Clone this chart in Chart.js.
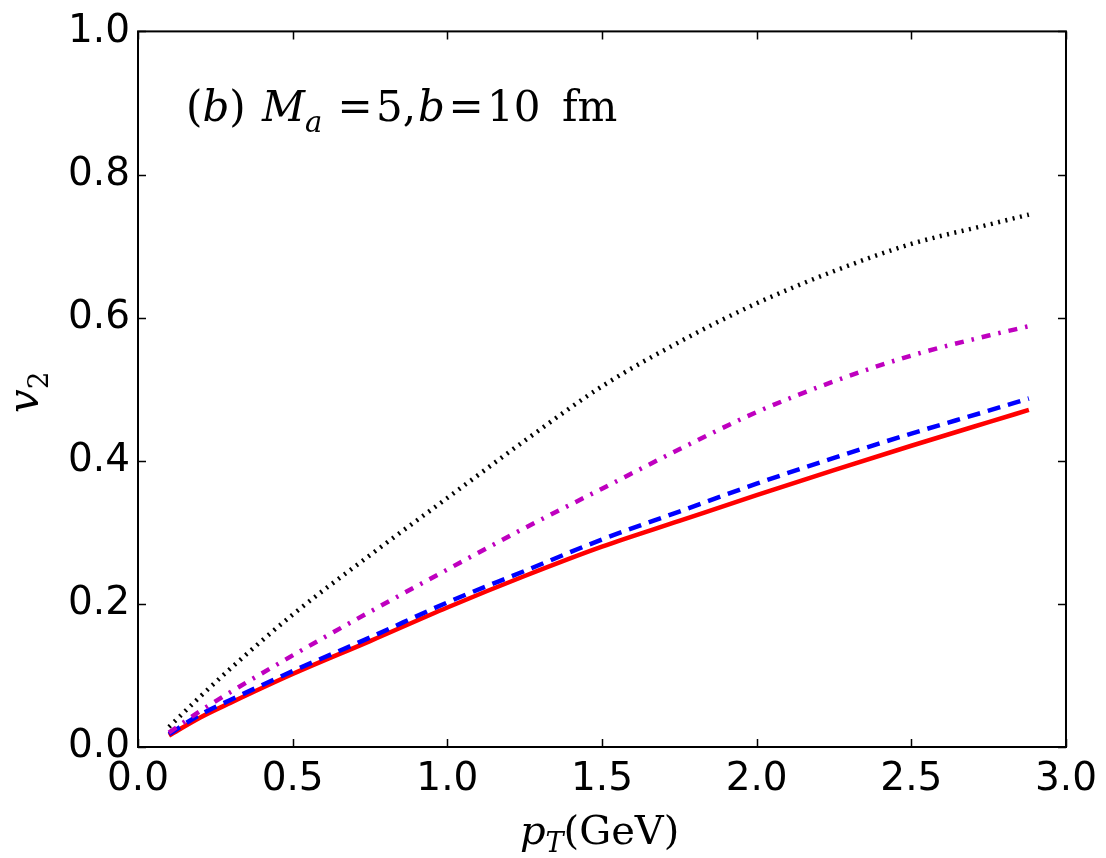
<!DOCTYPE html>
<html>
<head>
<meta charset="utf-8">
<script src="https://cdn.jsdelivr.net/npm/chart.js@4"></script>
<style>
  html, body { margin: 0; padding: 0; background: #fff; }
  #wrap { width: 1106px; height: 858px; }
</style>
</head>
<body>
<div id="wrap"><canvas id="v2Chart" width="1106" height="858"></canvas></div>
<script>
// pT values (GeV) and v2 for the four curves
const pT = [0.1, 0.2, 0.3, 0.5, 0.75, 1.0, 1.25, 1.5, 1.75, 2.0, 2.25, 2.5, 2.75, 2.88];
const v2Solid = [0.016, 0.041, 0.062, 0.102, 0.148, 0.195, 0.239, 0.280, 0.316, 0.352, 0.387, 0.421, 0.454, 0.471];
const v2Dashed = [0.018, 0.045, 0.066, 0.106, 0.153, 0.202, 0.246, 0.290, 0.329, 0.368, 0.404, 0.438, 0.470, 0.487];
const v2DashDot = [0.020, 0.050, 0.077, 0.128, 0.189, 0.248, 0.306, 0.361, 0.416, 0.468, 0.511, 0.547, 0.575, 0.588];
const v2Dotted = [0.028, 0.070, 0.110, 0.185, 0.268, 0.348, 0.428, 0.504, 0.566, 0.620, 0.665, 0.703, 0.730, 0.744];

const xTicks = [0, 0.5, 1.0, 1.5, 2.0, 2.5, 3.0];
const yTicks = [0, 0.2, 0.4, 0.6, 0.8, 1.0];

const tickFont = '"DejaVu Sans", sans-serif';
const mathFont = '"DejaVu Serif", "Liberation Serif", serif';

function toPoints(ys) {
  return pT.map((x, i) => ({ x: x, y: ys[i] }));
}

// draw a run of text pieces: [text, font, dy]
function drawRun(ctx, x, y, pieces) {
  pieces.forEach((p) => {
    ctx.font = p[1];
    ctx.fillText(p[0], x, y + (p[2] || 0));
    x += ctx.measureText(p[0]).width;
  });
  return x;
}

function drawCentered(ctx, text, cx, y, font) {
  ctx.save();
  ctx.font = font;
  ctx.textAlign = 'center';
  ctx.fillText(text, cx, y);
  ctx.restore();
}

const framePlugin = {
  id: 'frame',
  afterDraw(chart) {
    const ctx = chart.ctx;
    const a = chart.chartArea;
    const xs = chart.scales.x;
    const ys = chart.scales.y;
    ctx.save();
    ctx.strokeStyle = '#000';
    ctx.lineWidth = 2;
    ctx.strokeRect(a.left, a.top, a.right - a.left, a.bottom - a.top);

    // inward ticks on all four sides
    ctx.lineWidth = 1.5;
    ctx.beginPath();
    xTicks.forEach((t) => {
      const px = Math.round(xs.getPixelForValue(t)) + 0.5;
      ctx.moveTo(px, a.bottom); ctx.lineTo(px, a.bottom - 8);
      ctx.moveTo(px, a.top); ctx.lineTo(px, a.top + 8);
    });
    yTicks.forEach((t) => {
      const py = Math.round(ys.getPixelForValue(t)) + 0.5;
      ctx.moveTo(a.left, py); ctx.lineTo(a.left + 8, py);
      ctx.moveTo(a.right, py); ctx.lineTo(a.right - 8, py);
    });
    ctx.stroke();

    ctx.fillStyle = '#000';
    ctx.textBaseline = 'alphabetic';
    ctx.textAlign = 'left';

    // annotation (b) M_a = 5, b = 10 fm
    const big = '42px ' + mathFont;
    const bigIt = 'italic 42px ' + mathFont;
    const sub = 'italic 29px ' + mathFont;
    drawRun(ctx, 186, 121, [['(', big], ['b', bigIt], [')', big]]);
    drawRun(ctx, 262, 121, [['M', bigIt], ['a', sub, 11]]);
    drawCentered(ctx, '=', 355, 121, big);
    drawRun(ctx, 376, 121, [['5,', big]]);
    drawRun(ctx, 418, 121, [['b', bigIt]]);
    drawCentered(ctx, '=', 466, 121, big);
    drawRun(ctx, 487, 121, [['10', big]]);
    drawRun(ctx, 562, 121, [['fm', big]]);

    // x axis title
    drawRun(ctx, 520, 844, [
      ['p', 'italic 40px ' + mathFont], ['T', 'italic 27px ' + mathFont, 8], ['(GeV)', '40px ' + mathFont]
    ]);

    // y axis title
    ctx.translate(38, 413);
    ctx.rotate(-Math.PI / 2);
    drawRun(ctx, 0, 0, [
      ['v', 'italic 42px ' + mathFont], ['2', '28px ' + mathFont, 10]
    ]);
    ctx.restore();
  }
};

new Chart(document.getElementById('v2Chart'), {
  type: 'line',
  data: {
    datasets: [
      { data: toPoints(v2Dotted), borderColor: '#000000', borderWidth: 4.5, borderDash: [2, 5.5], pointRadius: 0, fill: false },
      { data: toPoints(v2DashDot), borderColor: '#bf00bf', borderWidth: 4.5, borderDash: [9, 8, 2.5, 8], pointRadius: 0, fill: false },
      { data: toPoints(v2Dashed), borderColor: '#0000ff', borderWidth: 4.5, borderDash: [13, 8], pointRadius: 0, fill: false },
      { data: toPoints(v2Solid), borderColor: '#ff0000', borderWidth: 4.5, pointRadius: 0, fill: false }
    ]
  },
  options: {
    responsive: false,
    animation: false,
    events: [],
    layout: { padding: { top: 28, right: 38, left: 0, bottom: 0 } },
    elements: { line: { cubicInterpolationMode: 'monotone', borderCapStyle: 'butt' } },
    plugins: { legend: { display: false }, tooltip: { enabled: false } },
    scales: {
      x: {
        type: 'linear', min: 0, max: 3,
        afterBuildTicks: (s) => { s.ticks = xTicks.map((v) => ({ value: v })); },
        afterFit: (s) => { s.height = 111; },
        grid: { display: false, drawTicks: false },
        border: { display: false },
        ticks: { color: '#000', font: { family: tickFont, size: 39 }, padding: 9, maxRotation: 0,
          callback: (v) => v.toFixed(1) }
      },
      y: {
        type: 'linear', min: 0, max: 1,
        afterBuildTicks: (s) => { s.ticks = yTicks.map((v) => ({ value: v })); },
        afterFit: (s) => { s.width = 138; },
        grid: { display: false, drawTicks: false },
        border: { display: false },
        ticks: { color: '#000', font: { family: tickFont, size: 39 }, padding: 8,
          callback: (v) => v.toFixed(1) }
      }
    }
  },
  plugins: [framePlugin]
});
</script>
</body>
</html>
